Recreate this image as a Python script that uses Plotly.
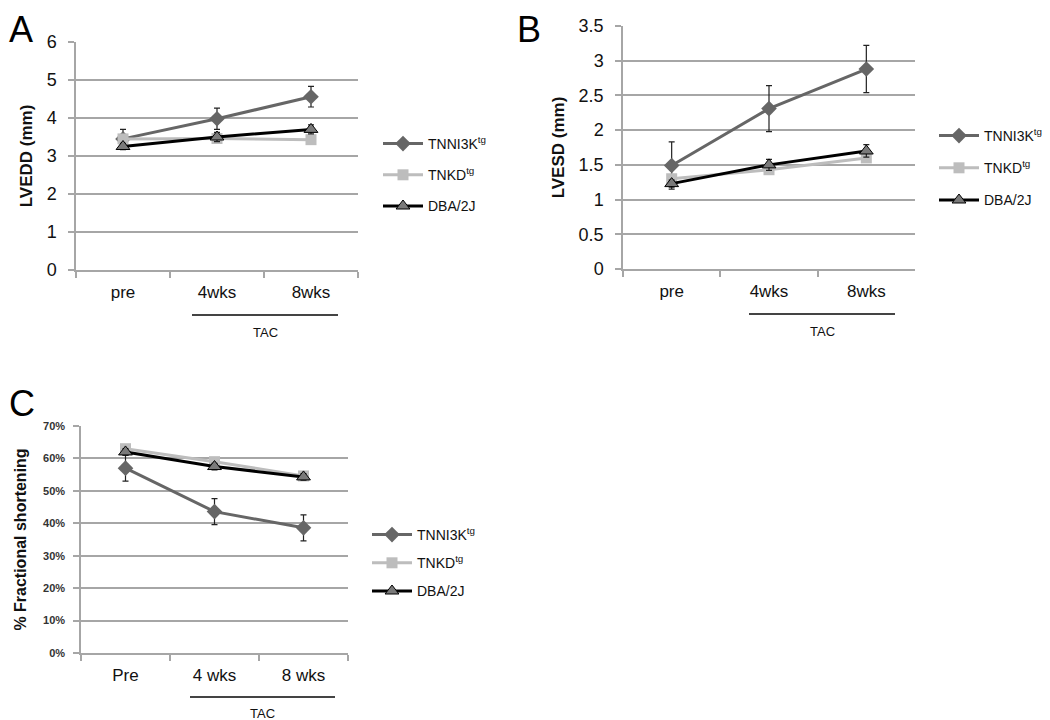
import plotly.graph_objects as go

# ---- data ----
cats_ab = ["pre", "4wks", "8wks"]
cats_c = ["Pre", "4 wks", "8 wks"]
series_names = ["TNNI3K<sup>tg</sup>", "TNKD<sup>tg</sup>", "DBA/2J"]

lvedd_tnni3k = [3.45, 3.98, 4.56]
lvedd_tnni3k_err = [0.25, 0.28, 0.27]
lvedd_tnkd = [3.45, 3.46, 3.43]
lvedd_tnkd_err = [0.1, 0.08, 0.06]
lvedd_dba = [3.25, 3.5, 3.7]
lvedd_dba_err = [0.08, 0.12, 0.12]

lvesd_tnni3k = [1.49, 2.31, 2.88]
lvesd_tnni3k_err = [0.34, 0.33, 0.34]
lvesd_tnkd = [1.3, 1.43, 1.6]
lvesd_tnkd_err = [0.05, 0.04, 0.05]
lvesd_dba = [1.23, 1.5, 1.7]
lvesd_dba_err = [0.05, 0.08, 0.09]

fs_tnni3k = [57.0, 43.6, 38.6]
fs_tnni3k_err = [4.0, 4.0, 4.0]
fs_tnkd = [63.0, 59.0, 54.6]
fs_tnkd_err = [1.0, 1.0, 1.0]
fs_dba = [62.0, 57.5, 54.3]
fs_dba_err = [1.0, 1.0, 1.0]

# ---- styles ----
FONT = "Liberation Sans, Arial, sans-serif"
styles = [
    dict(line=dict(color="#666666", width=3),
         marker=dict(symbol="diamond", size=12, color="#666666")),
    dict(line=dict(color="#bdbdbd", width=3),
         marker=dict(symbol="square", size=11, color="#bdbdbd")),
    dict(line=dict(color="#000000", width=3),
         marker=dict(symbol="triangle-up", size=12, color="#7a7a7a",
                     line=dict(color="#000000", width=1))),
]

fig = go.Figure()

panels = [
    ("x", "y", "legend", cats_ab,
     [(lvedd_tnni3k, lvedd_tnni3k_err), (lvedd_tnkd, lvedd_tnkd_err), (lvedd_dba, lvedd_dba_err)]),
    ("x2", "y2", "legend2", cats_ab,
     [(lvesd_tnni3k, lvesd_tnni3k_err), (lvesd_tnkd, lvesd_tnkd_err), (lvesd_dba, lvesd_dba_err)]),
    ("x3", "y3", "legend3", cats_c,
     [(fs_tnni3k, fs_tnni3k_err), (fs_tnkd, fs_tnkd_err), (fs_dba, fs_dba_err)]),
]

for xa, ya, lg, cats, data in panels:
    for i, (vals, errs) in enumerate(data):
        fig.add_trace(go.Scatter(
            x=cats, y=vals, xaxis=xa, yaxis=ya,
            mode="lines+markers", name=series_names[i],
            legend=lg, legendgroup=f"{lg}_{i}",
            error_y=dict(type="data", array=errs, color="#222222", thickness=1.2, width=3),
            **styles[i],
        ))

W, H = 1050, 720
OFF = 8  # page body margin


def px(x):
    return (x - OFF) / W


def py(y):
    return 1 - (y - OFF) / H


def xd(a, b):
    return [px(a), px(b)]


def yd(top, bottom):
    return [py(bottom), py(top)]


grid = "#a6a6a6"
common_x = dict(type="category", range=[-0.5, 2.5], showline=True, linecolor=grid, linewidth=1.5,
                ticks="outside", tickson="boundaries", ticklen=6, tickcolor=grid, tickwidth=1.5,
                showgrid=False, zeroline=False, automargin=False, ticklabelstandoff=6,
                tickfont=dict(family=FONT, size=17, color="#111111"), fixedrange=True)
common_y = dict(showline=True, linecolor=grid, linewidth=1.5, ticks="outside", ticklen=6,
                tickcolor=grid, tickwidth=1.5, showgrid=True, gridcolor=grid, gridwidth=1.5,
                zeroline=False, automargin=False, fixedrange=True)

fig.update_layout(
    width=W, height=H, autosize=False,
    margin=dict(l=0, r=0, t=0, b=0, autoexpand=False),
    paper_bgcolor="white", plot_bgcolor="white",
    font=dict(family=FONT, color="#111111"),
    xaxis=dict(domain=xd(76, 358), anchor="y", **common_x),
    yaxis=dict(domain=yd(42, 270), anchor="x", range=[0, 6], dtick=1, ticklabelstandoff=8,
               tickfont=dict(family=FONT, size=18, color="#111111"),
               title=dict(text="<b>LVEDD (mm)</b>", font=dict(family=FONT, size=17), standoff=10),
               **common_y),
    xaxis2=dict(domain=xd(623, 915), anchor="y2", **common_x),
    yaxis2=dict(domain=yd(26, 269), anchor="x2", range=[0, 3.5], dtick=0.5, ticklabelstandoff=8,
                tickfont=dict(family=FONT, size=18, color="#111111"),
                title=dict(text="<b>LVESD (mm)</b>", font=dict(family=FONT, size=17), standoff=10),
                **common_y),
    xaxis3=dict(domain=xd(81, 348), anchor="y3", **common_x),
    yaxis3=dict(domain=yd(426, 653), anchor="x3", range=[0, 70], dtick=10, ticksuffix="%",
                ticklabelstandoff=6,
                tickfont=dict(family=FONT, size=11, color="#333333", weight="bold"),
                title=dict(text="<b>% Fractional shortening</b>", font=dict(family=FONT, size=16), standoff=12),
                **common_y),
)

leg_common = dict(bgcolor="rgba(0,0,0,0)", font=dict(family=FONT, size=14, color="#111111"),
                  traceorder="grouped", xanchor="left", yanchor="top", itemwidth=40,
                  itemclick=False, itemdoubleclick=False)
fig.update_layout(
    legend=dict(x=px(378), y=py(128), tracegroupgap=10, **leg_common),
    legend2=dict(x=px(934), y=py(120), tracegroupgap=11, **leg_common),
    legend3=dict(x=px(367), y=py(519), tracegroupgap=7, **leg_common),
)

# TAC brackets and panel letters
tac = [(192, 338, 315, 333), (749, 895, 314, 332), (190, 335, 697, 713)]
for x0, x1, yl, yt in tac:
    fig.add_shape(type="line", xref="paper", yref="paper", x0=px(x0), x1=px(x1),
                  y0=py(yl), y1=py(yl), line=dict(color="#444444", width=2))
    fig.add_annotation(xref="paper", yref="paper", x=px((x0 + x1) / 2), y=py(yt),
                       text="TAC", showarrow=False, font=dict(family=FONT, size=13, color="#111111"),
                       xanchor="center", yanchor="middle")

letter_font = dict(family=FONT, size=36, color="#000000")
fig.add_annotation(xref="paper", yref="paper", x=0, y=1, text="A", showarrow=False,
                   font=letter_font, xanchor="left", yanchor="top", borderpad=0)
fig.add_annotation(xref="paper", yref="paper", x=px(529), y=1, text="B", showarrow=False,
                   font=letter_font, xanchor="center", yanchor="top", borderpad=0)
fig.add_annotation(xref="paper", yref="paper", x=0, y=py(403), text="C", showarrow=False,
                   font=letter_font, xanchor="left", yanchor="middle", borderpad=0)

fig.write_html("out.html")
